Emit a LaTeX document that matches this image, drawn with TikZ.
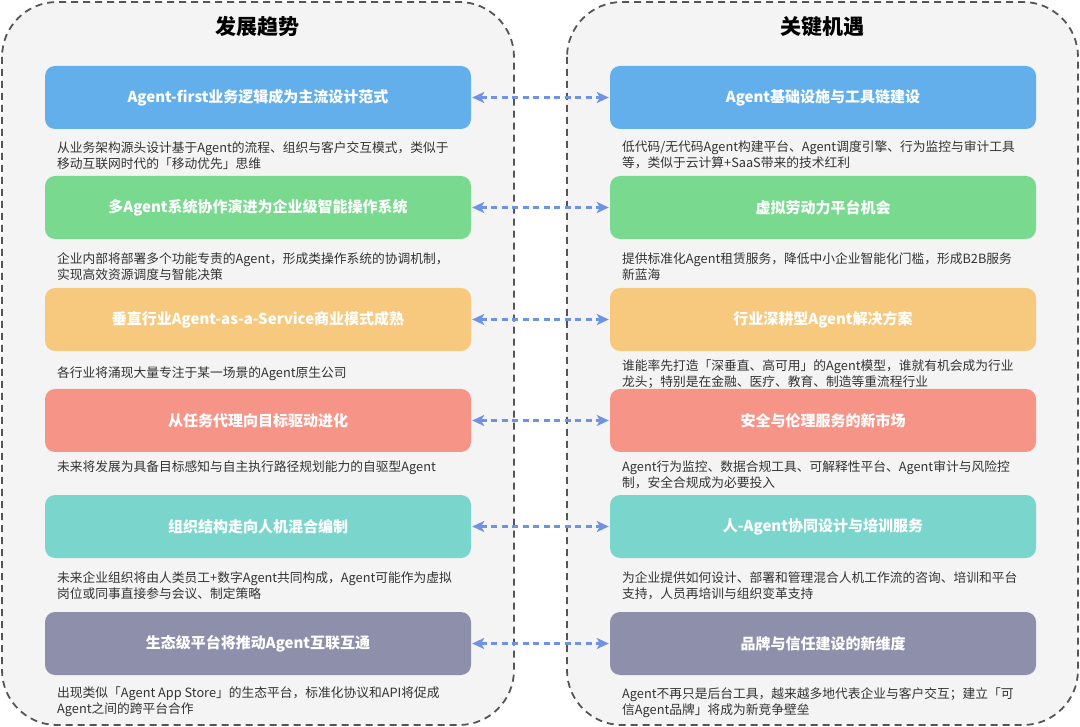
\documentclass[tikz,border=0pt]{standalone}
\usepackage{fontspec}
\setmainfont{Noto Sans CJK SC}
\usetikzlibrary{arrows.meta}
\definecolor{panelbg}{HTML}{F4F4F4}
\definecolor{panelline}{HTML}{555555}
\definecolor{linkblue}{HTML}{6F93E2}
\definecolor{desctext}{HTML}{333333}
\definecolor{cblue}{HTML}{62AFEB}
\definecolor{cgreen}{HTML}{78D98F}
\definecolor{corange}{HTML}{F6C97F}
\definecolor{cred}{HTML}{F69488}
\definecolor{cteal}{HTML}{7AD6CD}
\definecolor{cgray}{HTML}{8E8FAB}
\begin{document}
\begin{tikzpicture}[x=1pt,y=-1pt,
  panel/.style={draw=panelline, fill=panelbg, line width=1.8pt, dash pattern=on 7pt off 5pt, rounded corners=55pt},
  card/.style={rounded corners=10pt, minimum width=426pt, minimum height=63pt, inner sep=0pt, text=white, font=\bfseries\fontsize{15}{18}\selectfont},
  desc/.style={anchor=north west, inner sep=0pt, align=left, text=desctext, font=\fontsize{12.75}{16}\selectfont},
  link/.style={draw=linkblue, line width=2.2pt, dash pattern=on 6pt off 4.5pt, {Stealth[length=12pt,width=11pt,inset=3pt]}-{Stealth[length=12pt,width=11pt,inset=3pt]}, shorten >=1pt, shorten <=1pt},
  header/.style={font=\bfseries\fontsize{21}{24}\selectfont, text=black}]
\useasboundingbox (0,0) rectangle (1080,727);
\path[panel] (2,2) rectangle (514,725);
\path[panel] (567,2) rectangle (1078,725);
\node[header] (hl) at (257,27) {发展趋势};
\node[header] (hr) at (822,27) {关键机遇};
% left cards
\node[card, fill=cblue] (l1) at (258,97.5) {Agent-first业务逻辑成为主流设计范式};
\node[card, fill=cgreen] (l2) at (258,207.5) {多Agent系统协作演进为企业级智能操作系统};
\node[card, fill=corange] (l3) at (258,319.5) {垂直行业Agent-as-a-Service商业模式成熟};
\node[card, fill=cred] (l4) at (258,420.5) {从任务代理向目标驱动进化};
\node[card, fill=cteal] (l5) at (258,526.5) {组织结构走向人机混合编制};
\node[card, fill=cgray] (l6) at (258,643.5) {生态级平台将推动Agent互联互通};
% right cards
\node[card, fill=cblue] (r1) at (823,97.5) {Agent基础设施与工具链建设};
\node[card, fill=cgreen] (r2) at (823,207.5) {虚拟劳动力平台机会};
\node[card, fill=corange] (r3) at (823,319.5) {行业深耕型Agent解决方案};
\node[card, fill=cred] (r4) at (823,420.5) {安全与伦理服务的新市场};
\node[card, fill=cteal] (r5) at (823,526.5) {人-Agent协同设计与培训服务};
\node[card, fill=cgray] (r6) at (823,643.5) {品牌与信任建设的新维度};
% left descriptions
\node[desc] (dl1) at (57,141) {从业务架构源头设计基于Agent的流程、组织与客户交互模式，类似于\\移动互联网时代的「移动优先」思维};
\node[desc] (dl2) at (57,252) {企业内部将部署多个功能专责的Agent，形成类操作系统的协调机制，\\实现高效资源调度与智能决策};
\node[desc] (dl3) at (57,366) {各行业将涌现大量专注于某一场景的Agent原生公司};
\node[desc] (dl4) at (57,461) {未来将发展为具备目标感知与自主执行路径规划能力的自驱型Agent};
\node[desc] (dl5) at (57,571) {未来企业组织将由人类员工+数字Agent共同构成，Agent可能作为虚拟\\岗位或同事直接参与会议、制定策略};
\node[desc] (dl6) at (57,687) {出现类似「Agent App Store」的生态平台，标准化协议和API将促成\\Agent之间的跨平台合作};
% right descriptions
\node[desc] (dr1) at (622,141) {低代码/无代码Agent构建平台、Agent调度引擎、行为监控与审计工具\\等，类似于云计算+SaaS带来的技术红利};
\node[desc] (dr2) at (622,252) {提供标准化Agent租赁服务，降低中小企业智能化门槛，形成B2B服务\\新蓝海};
\node[desc] (dr3) at (622,360) {谁能率先打造「深垂直、高可用」的Agent模型，谁就有机会成为行业\\龙头；特别是在金融、医疗、教育、制造等重流程行业};
\node[desc] (dr4) at (622,461) {Agent行为监控、数据合规工具、可解释性平台、Agent审计与风险控\\制，安全合规成为必要投入};
\node[desc] (dr5) at (622,571) {为企业提供如何设计、部署和管理混合人机工作流的咨询、培训和平台\\支持，人员再培训与组织变革支持};
\node[desc] (dr6) at (622,687) {Agent不再只是后台工具，越来越多地代表企业与客户交互；建立「可\\信Agent品牌」将成为新竞争壁垒};
% links
\foreach \i in {1,...,6} {
  \draw[link] (l\i.east) -- (r\i.west);
}
\end{tikzpicture}
\end{document}
